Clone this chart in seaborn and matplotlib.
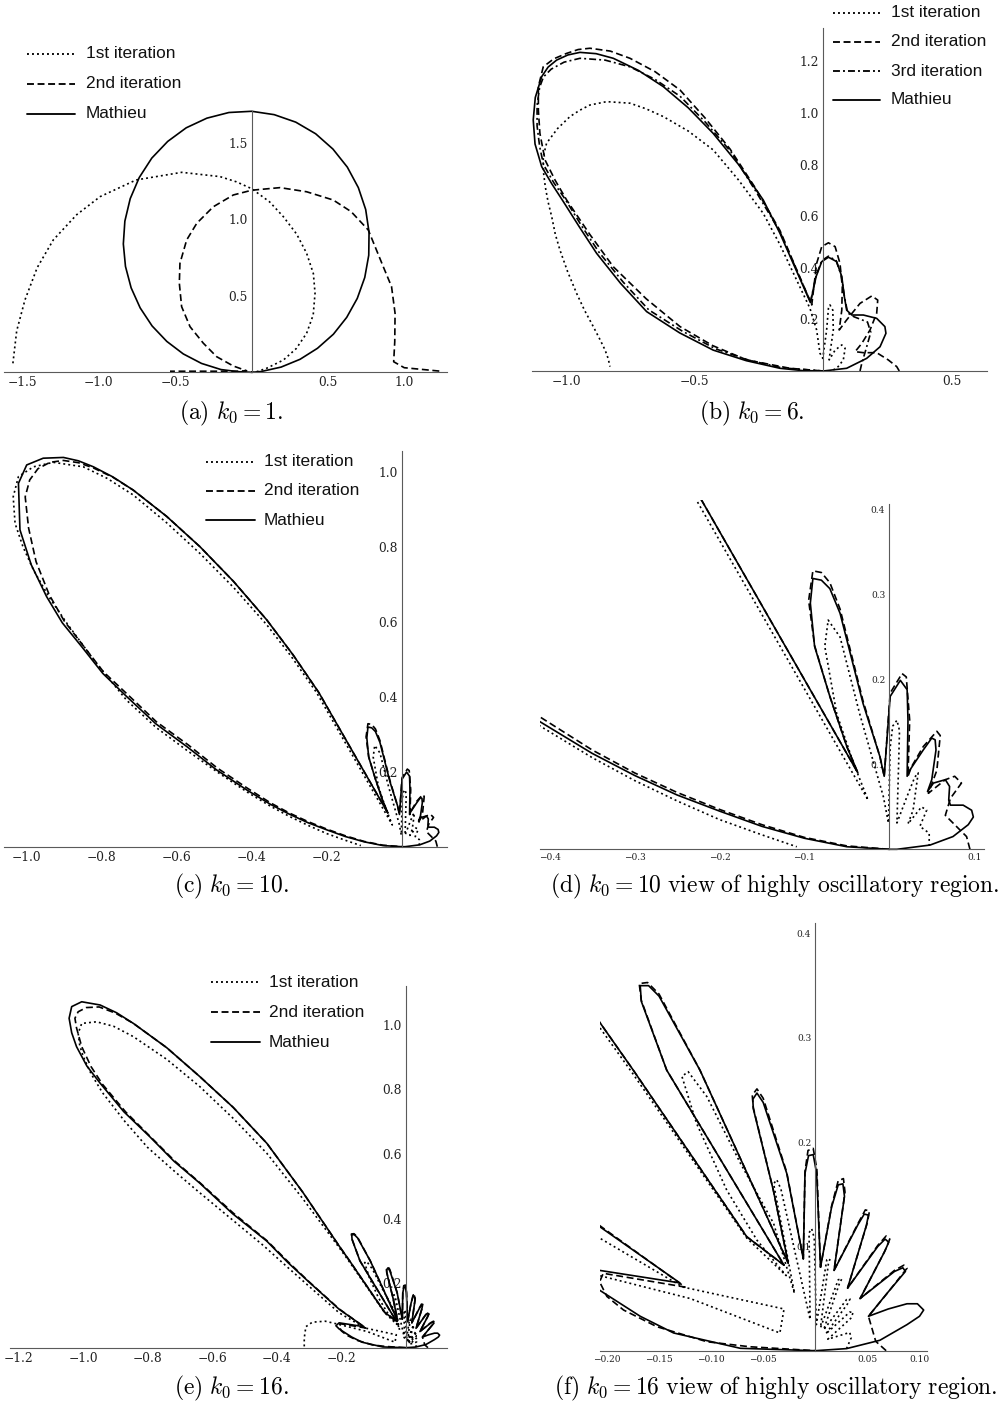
import numpy as np
import pandas as pd
import matplotlib
matplotlib.use("Agg")
import matplotlib.pyplot as plt
import seaborn as sns
from matplotlib.lines import Line2D
from matplotlib.ticker import FixedLocator, MultipleLocator, FuncFormatter

# ---------------- data (x, y) vertices ----------------
# (a) k0 = 1
A_MATHIEU = [(0.0, 0.0), (0.062, 0.005), (0.192, 0.034), (0.316, 0.085), (0.430, 0.157), (0.534, 0.249),
             (0.621, 0.359), (0.690, 0.483), (0.739, 0.620), (0.765, 0.765), (0.767, 0.915), (0.745, 1.064),
             (0.697, 1.207), (0.625, 1.341), (0.531, 1.459), (0.418, 1.559), (0.288, 1.635), (0.147, 1.684),
             (0.0, 1.706), (-0.149, 1.698), (-0.293, 1.661), (-0.428, 1.598), (-0.549, 1.509), (-0.653, 1.400),
             (-0.735, 1.273), (-0.794, 1.135), (-0.829, 0.988), (-0.839, 0.839), (-0.825, 0.692), (-0.788, 0.552),
             (-0.729, 0.421), (-0.651, 0.303), (-0.555, 0.202), (-0.447, 0.120), (-0.328, 0.058), (-0.201, 0.018),
             (-0.09, 0.004), (0.0, 0.0)]
A_ITER1 = [(0.0, 0.0), (0.03, 0.003), (0.097, 0.026), (0.207, 0.080), (0.291, 0.155), (0.359, 0.255),
           (0.402, 0.375), (0.414, 0.517), (0.403, 0.645), (0.359, 0.778), (0.294, 0.903), (0.207, 1.017),
           (0.117, 1.114), (0.0, 1.2), (-0.1, 1.245), (-0.207, 1.279), (-0.457, 1.307), (-0.756, 1.257),
           (-0.991, 1.148), (-1.144, 1.030), (-1.297, 0.865), (-1.402, 0.684), (-1.482, 0.473), (-1.536, 0.271),
           (-1.562, 0.048)]
A_ITER2 = [(1.226, 0.008), (0.997, 0.030), (0.928, 0.069), (0.935, 0.2), (0.937, 0.386), (0.914, 0.56),
           (0.86, 0.69), (0.762, 0.93), (0.65, 1.05), (0.533, 1.126), (0.359, 1.18), (0.185, 1.207), (0.0, 1.19),
           (-0.12, 1.159), (-0.251, 1.082), (-0.359, 0.974), (-0.425, 0.865), (-0.469, 0.712), (-0.473, 0.582),
           (-0.458, 0.429), (-0.403, 0.298), (-0.316, 0.190), (-0.229, 0.102), (-0.12, 0.041), (-0.033, 0.010),
           (-0.1, 0.007), (-0.3, 0.007), (-0.534, 0.007)]

# (b) k0 = 6
B_MATHIEU = [(0.0, 0.0), (0.091, 0.0105), (0.169, 0.049), (0.221, 0.094), (0.244, 0.146), (0.240, 0.172),
             (0.208, 0.204), (0.156, 0.217), (0.111, 0.217), (0.091, 0.236), (0.082, 0.288), (0.072, 0.366),
             (0.052, 0.424), (0.020, 0.441), (-0.006, 0.424), (-0.028, 0.366), (-0.05, 0.265), (-0.169, 0.534),
             (-0.234, 0.663), (-0.33, 0.80), (-0.429, 0.921), (-0.526, 1.02), (-0.623, 1.102), (-0.72, 1.165),
             (-0.818, 1.212), (-0.885, 1.23), (-0.948, 1.235), (-0.995, 1.225), (-1.039, 1.205), (-1.072, 1.178),
             (-1.097, 1.141), (-1.122, 1.06), (-1.130, 0.973), (-1.123, 0.88), (-1.097, 0.792), (-1.058, 0.726),
             (-1.013, 0.657), (-0.95, 0.558), (-0.883, 0.456), (-0.79, 0.34), (-0.688, 0.230), (-0.56, 0.148),
             (-0.429, 0.081), (-0.3, 0.040), (-0.169, 0.0105), (-0.08, 0.0015), (0.0, 0.0)]
B_ITER1 = [(0.039, 0.004), (0.058, 0.017), (0.078, 0.043), (0.085, 0.088), (0.072, 0.101), (0.046, 0.081),
           (0.023, 0.043), (0.026, 0.069), (0.039, 0.159), (0.037, 0.236), (0.026, 0.256), (0.020, 0.243),
           (0.013, 0.159), (-0.002, 0.049), (-0.013, 0.069), (-0.026, 0.159), (-0.052, 0.243), (-0.169, 0.49),
           (-0.234, 0.611), (-0.33, 0.74), (-0.429, 0.857), (-0.526, 0.93), (-0.623, 0.986), (-0.69, 1.016),
           (-0.753, 1.038), (-0.844, 1.044), (-0.909, 1.031), (-0.95, 1.01), (-0.987, 0.986), (-1.035, 0.94),
           (-1.078, 0.883), (-1.091, 0.831), (-1.09, 0.77), (-1.083, 0.714), (-1.072, 0.655), (-1.058, 0.598),
           (-1.044, 0.53), (-1.026, 0.469), (-0.996, 0.385), (-0.961, 0.301), (-0.93, 0.235), (-0.896, 0.172),
           (-0.87, 0.122), (-0.850, 0.081), (-0.838, 0.048), (-0.831, 0.017)]
B_ITER2 = [(0.296, 0.0), (0.286, 0.017), (0.253, 0.043), (0.208, 0.071), (0.156, 0.071), (0.124, 0.075),
           (0.150, 0.107), (0.182, 0.159), (0.208, 0.224), (0.212, 0.275), (0.189, 0.291), (0.143, 0.262),
           (0.091, 0.198), (0.062, 0.159), (0.072, 0.236), (0.074, 0.327), (0.065, 0.417), (0.046, 0.482),
           (0.020, 0.497), (-0.006, 0.482), (-0.026, 0.417), (-0.045, 0.256), (-0.169, 0.545), (-0.265, 0.71),
           (-0.363, 0.86), (-0.46, 0.98), (-0.558, 1.089), (-0.655, 1.16), (-0.753, 1.212), (-0.83, 1.24),
           (-0.909, 1.251), (-0.955, 1.246), (-1.0, 1.231), (-1.05, 1.21), (-1.091, 1.179), (-1.110, 1.102),
           (-1.11, 1.01), (-1.104, 0.921), (-1.084, 0.818), (-1.045, 0.74), (-1.0, 0.663), (-0.91, 0.53),
           (-0.818, 0.404), (-0.69, 0.28), (-0.558, 0.172), (-0.43, 0.098), (-0.298, 0.043), (-0.13, 0.0105),
           (0.0, 0.0)]
B_ITER3 = [(0.143, 0.0), (0.150, 0.03), (0.165, 0.08), (0.185, 0.15), (0.172, 0.19), (0.12, 0.21), (0.095, 0.225),
           (0.082, 0.29), (0.070, 0.37), (0.050, 0.428), (0.020, 0.445), (-0.006, 0.428), (-0.028, 0.37),
           (-0.05, 0.268), (-0.169, 0.54), (-0.265, 0.70), (-0.36, 0.85), (-0.46, 0.965), (-0.558, 1.065),
           (-0.655, 1.13), (-0.753, 1.179), (-0.85, 1.205), (-0.948, 1.212), (-1.01, 1.197), (-1.06, 1.17),
           (-1.09, 1.14), (-1.105, 1.10), (-1.115, 1.03), (-1.115, 0.95), (-1.105, 0.87), (-1.09, 0.80),
           (-1.05, 0.73), (-1.005, 0.665), (-0.94, 0.56), (-0.875, 0.462), (-0.78, 0.345), (-0.68, 0.237),
           (-0.55, 0.155), (-0.42, 0.086), (-0.29, 0.042), (-0.16, 0.012), (0.0, 0.0)]

# (c)/(d) k0 = 10
K10_MATHIEU = [(0.0, 0.0), (0.009, 0.0), (0.048, 0.005), (0.075, 0.015), (0.093, 0.029), (0.099, 0.038),
               (0.097, 0.046), (0.087, 0.052), (0.072, 0.052), (0.070, 0.058), (0.071, 0.074), (0.066, 0.082),
               (0.052, 0.078), (0.045, 0.068), (0.050, 0.082), (0.055, 0.117), (0.054, 0.129), (0.050, 0.131),
               (0.040, 0.117), (0.024, 0.093), (0.021, 0.086), (0.022, 0.152), (0.021, 0.188), (0.013, 0.199),
               (0.001, 0.18), (-0.006, 0.086), (-0.011, 0.109), (-0.031, 0.172), (-0.058, 0.278), (-0.070, 0.307),
               (-0.080, 0.317), (-0.090, 0.319), (-0.093, 0.29), (-0.088, 0.239), (-0.070, 0.18), (-0.050, 0.121),
               (-0.037, 0.090), (-0.221, 0.411), (-0.29, 0.512), (-0.36, 0.605), (-0.449, 0.708), (-0.538, 0.8),
               (-0.627, 0.881), (-0.716, 0.951), (-0.77, 0.986), (-0.822, 1.013), (-0.862, 1.029), (-0.902, 1.038),
               (-0.956, 1.036), (-1.0, 1.018), (-1.022, 0.969), (-1.018, 0.845), (-0.988, 0.752), (-0.947, 0.667),
               (-0.905, 0.597), (-0.853, 0.533), (-0.797, 0.462), (-0.733, 0.4), (-0.656, 0.328), (-0.573, 0.267),
               (-0.494, 0.205), (-0.411, 0.150), (-0.35, 0.113), (-0.3, 0.087), (-0.25, 0.064), (-0.2, 0.045),
               (-0.15, 0.027), (-0.1, 0.013), (-0.05, 0.003), (0.0, 0.0)]
K10_ITER1 = [(0.047, 0.004), (0.047, 0.019), (0.036, 0.027), (0.044, 0.046), (0.038, 0.050), (0.022, 0.030),
             (0.028, 0.046), (0.034, 0.090), (0.030, 0.085), (0.020, 0.060), (0.009, 0.031), (0.011, 0.101),
             (0.012, 0.14), (0.009, 0.152), (0.004, 0.145), (0.001, 0.12), (-0.001, 0.031), (-0.007, 0.062),
             (-0.035, 0.160), (-0.058, 0.25), (-0.072, 0.27), (-0.076, 0.239), (-0.062, 0.160), (-0.042, 0.101),
             (-0.025, 0.058), (-0.227, 0.411), (-0.295, 0.508), (-0.36, 0.592), (-0.449, 0.692), (-0.538, 0.782),
             (-0.627, 0.864), (-0.716, 0.938), (-0.785, 0.982), (-0.849, 1.013), (-0.929, 1.025), (-0.982, 1.013),
             (-1.022, 0.987), (-1.036, 0.933), (-1.031, 0.862), (-1.01, 0.80), (-0.982, 0.738), (-0.94, 0.665),
             (-0.893, 0.596), (-0.815, 0.49), (-0.733, 0.39), (-0.655, 0.318), (-0.573, 0.257), (-0.49, 0.198),
             (-0.411, 0.145), (-0.35, 0.108), (-0.3, 0.081), (-0.25, 0.057), (-0.2, 0.035), (-0.15, 0.017),
             (-0.109, 0.003)]
K10_ITER2 = [(0.095, 0.0), (0.091, 0.015), (0.066, 0.040), (0.072, 0.060), (0.085, 0.078), (0.077, 0.086),
             (0.066, 0.082), (0.046, 0.066), (0.056, 0.093), (0.060, 0.134), (0.056, 0.139), (0.040, 0.121),
             (0.026, 0.097), (0.022, 0.086), (0.024, 0.152), (0.020, 0.203), (0.015, 0.207), (0.001, 0.184),
             (-0.006, 0.086), (-0.011, 0.109), (-0.031, 0.175), (-0.058, 0.283), (-0.070, 0.314), (-0.080, 0.326),
             (-0.090, 0.328), (-0.095, 0.293), (-0.088, 0.24), (-0.070, 0.18), (-0.050, 0.121), (-0.037, 0.090),
             (-0.221, 0.411), (-0.29, 0.512), (-0.36, 0.605), (-0.449, 0.708), (-0.538, 0.8), (-0.627, 0.881),
             (-0.716, 0.951), (-0.77, 0.985), (-0.822, 1.01), (-0.862, 1.024), (-0.902, 1.030), (-0.938, 1.025),
             (-0.97, 1.008), (-0.992, 0.978), (-1.004, 0.933), (-0.995, 0.85), (-0.975, 0.76), (-0.94, 0.672),
             (-0.90, 0.602), (-0.85, 0.537), (-0.795, 0.466), (-0.73, 0.405), (-0.654, 0.333), (-0.57, 0.272),
             (-0.492, 0.21), (-0.41, 0.155), (-0.35, 0.117), (-0.3, 0.09), (-0.25, 0.067), (-0.2, 0.047),
             (-0.15, 0.029), (-0.1, 0.014), (-0.05, 0.004), (0.0, 0.0)]

# (e)/(f) k0 = 16
K16_MATHIEU = [(0.0, 0.0), (0.030, 0.002), (0.062, 0.010), (0.088, 0.025), (0.100, 0.033), (0.104, 0.039),
               (0.098, 0.045), (0.088, 0.045), (0.070, 0.040), (0.051, 0.033), (0.068, 0.054), (0.0865, 0.076),
               (0.084, 0.0795), (0.076, 0.076), (0.043, 0.050), (0.066, 0.094), (0.0705, 0.104), (0.067, 0.107),
               (0.060, 0.100), (0.031, 0.060), (0.049, 0.120), (0.051, 0.130), (0.047, 0.131), (0.041, 0.121),
               (0.018, 0.077), (0.028, 0.148), (0.0265, 0.160), (0.022, 0.159), (0.0157, 0.138), (0.005, 0.080),
               (0.0013, 0.170), (-0.002, 0.188), (-0.0065, 0.187), (-0.0099, 0.170), (-0.0115, 0.088),
               (-0.0274, 0.170), (-0.050, 0.238), (-0.056, 0.247), (-0.060, 0.241), (-0.0595, 0.232),
               (-0.0403, 0.154), (-0.026, 0.084), (-0.1107, 0.269), (-0.150, 0.340), (-0.160, 0.350),
               (-0.168, 0.350), (-0.167, 0.335), (-0.1426, 0.269), (-0.030, 0.082), (-0.0658, 0.1093),
               (-0.1747, 0.269), (-0.207, 0.315), (-0.32, 0.482), (-0.431, 0.633), (-0.535, 0.744), (-0.638, 0.839),
               (-0.741, 0.929), (-0.844, 1.004), (-0.896, 1.037), (-0.947, 1.061), (-1.004, 1.071), (-1.035, 1.056),
               (-1.043, 1.02), (-1.035, 0.975), (-1.02, 0.932), (-0.988, 0.872), (-0.947, 0.819), (-0.874, 0.731),
               (-0.793, 0.653), (-0.718, 0.577), (-0.638, 0.509), (-0.537, 0.415), (-0.431, 0.33), (-0.366, 0.264),
               (-0.3, 0.203), (-0.207, 0.119), (-0.13, 0.065), (-0.207, 0.077), (-0.217, 0.068), (-0.207, 0.058),
               (-0.168, 0.033), (-0.136, 0.017), (-0.072, 0.0023), (0.0, 0.0)]
K16_ITER1 = [(0.030, 0.002), (0.0345, 0.0125), (0.033, 0.0175), (0.012, 0.011), (0.034, 0.031), (0.0365, 0.037),
             (0.033, 0.037), (0.010, 0.016), (0.031, 0.045), (0.0333, 0.0495), (0.030, 0.049), (0.008, 0.020),
             (0.023, 0.064), (0.0255, 0.069), (0.022, 0.068), (0.005, 0.022), (0.0125, 0.083), (0.0141, 0.088),
             (0.011, 0.087), (0.001, 0.025), (-0.001, 0.108), (-0.0035, 0.117), (-0.006, 0.113), (-0.005, 0.03),
             (-0.033, 0.155), (-0.037, 0.164), (-0.040, 0.160), (-0.020, 0.055), (-0.040, 0.122), (-0.072, 0.18),
             (-0.104, 0.2435), (-0.122, 0.2675), (-0.128, 0.263), (-0.114, 0.218), (-0.085, 0.154),
             (-0.056, 0.106), (-0.028, 0.072), (-0.0658, 0.108), (-0.1747, 0.265), (-0.207, 0.31), (-0.32, 0.462),
             (-0.431, 0.602), (-0.535, 0.71), (-0.638, 0.808), (-0.741, 0.893), (-0.844, 0.963), (-0.905, 0.995),
             (-0.958, 1.009), (-1.004, 1.004), (-1.015, 0.973), (-1.01, 0.935), (-0.999, 0.901), (-0.975, 0.848),
             (-0.94, 0.79), (-0.87, 0.70), (-0.80, 0.62), (-0.72, 0.549), (-0.645, 0.485), (-0.54, 0.398),
             (-0.44, 0.315), (-0.37, 0.252), (-0.3, 0.19), (-0.207, 0.108), (-0.127, 0.061), (-0.030, 0.040),
             (-0.034, 0.017), (-0.12, 0.05), (-0.207, 0.072), (-0.25, 0.082), (-0.29, 0.079), (-0.31, 0.065),
             (-0.315, 0.03), (-0.315, 0.0)]
K16_ITER2 = [(0.068, 0.0), (0.058, 0.009), (0.051, 0.033), (0.069, 0.055), (0.088, 0.079), (0.085, 0.082),
             (0.076, 0.077), (0.043, 0.050), (0.067, 0.096), (0.0715, 0.107), (0.068, 0.110), (0.060, 0.101),
             (0.031, 0.060), (0.050, 0.123), (0.052, 0.134), (0.048, 0.135), (0.041, 0.122), (0.018, 0.077),
             (0.0285, 0.152), (0.027, 0.165), (0.022, 0.163), (0.0157, 0.139), (0.005, 0.080), (0.0015, 0.174),
             (-0.002, 0.194), (-0.007, 0.192), (-0.0099, 0.172), (-0.0115, 0.088), (-0.0274, 0.171),
             (-0.050, 0.242), (-0.056, 0.251), (-0.0605, 0.245), (-0.0595, 0.233), (-0.0403, 0.154),
             (-0.026, 0.084), (-0.1107, 0.269), (-0.150, 0.342), (-0.161, 0.353), (-0.169, 0.352),
             (-0.167, 0.336), (-0.1426, 0.269), (-0.030, 0.082), (-0.0658, 0.1093), (-0.1747, 0.269),
             (-0.207, 0.315), (-0.32, 0.482), (-0.431, 0.633), (-0.535, 0.744), (-0.638, 0.839), (-0.741, 0.929),
             (-0.844, 1.004), (-0.90, 1.036), (-0.95, 1.055), (-0.99, 1.053), (-1.015, 1.04), (-1.025, 1.02),
             (-1.02, 0.99), (-1.004, 0.932), (-0.975, 0.87), (-0.94, 0.816), (-0.868, 0.73), (-0.79, 0.652),
             (-0.716, 0.578), (-0.636, 0.509), (-0.535, 0.417), (-0.43, 0.331), (-0.365, 0.266), (-0.3, 0.204),
             (-0.207, 0.12), (-0.125, 0.061), (-0.2035, 0.0742), (-0.207, 0.066), (-0.200, 0.052),
             (-0.184, 0.039), (-0.152, 0.023), (-0.104, 0.0086), (-0.063, 0.0038), (0.0, 0.0)]

SERIES_LABELS = ["1st iteration", "2nd iteration", "3rd iteration", "Mathieu"]
CAPTIONS = {
    "a": r"$\mathrm{(a)}\ k_0 = 1\mathrm{.}$",
    "b": r"$\mathrm{(b)}\ k_0 = 6\mathrm{.}$",
    "c": r"$\mathrm{(c)}\ k_0 = 10\mathrm{.}$",
    "d": r"$\mathrm{(d)}\ k_0 = 10\ \mathrm{view\ of\ highly\ oscillatory\ region.}$",
    "e": r"$\mathrm{(e)}\ k_0 = 16\mathrm{.}$",
    "f": r"$\mathrm{(f)}\ k_0 = 16\ \mathrm{view\ of\ highly\ oscillatory\ region.}$",
}

# ---------------- styling ----------------
sns.set_theme(style="white")
plt.rcParams["font.family"] = ["DejaVu Serif"]
plt.rcParams["mathtext.fontset"] = "cm"
plt.rcParams["lines.scale_dashes"] = False

W, H = 1007, 1408
fig = plt.figure(figsize=(W / 100, H / 100), dpi=100)
fig.patch.set_facecolor("white")

STY = {
    "dot": (0, (1.4, 2.2)),
    "dash": (0, (5.0, 2.6)),
    "ddot": (0, (5.0, 2.2, 1.4, 2.2)),
    "solid": "-",
}
LW = 1.2
AXC = "#5a5a5a"


def fmt(dec):
    return FuncFormatter(lambda v, p: f"{v:.{dec}f}".replace("-", "\u2212"))


def make_axes(ox, oy, sx, sy, xlim, ylim, ytop, xmaj, ymaj, xminor, yminor, xdec, ydec, fs):
    left = ox + sx * xlim[0]
    right = ox + sx * xlim[1]
    top = oy - sy * ylim[1]
    bottom = oy - sy * ylim[0]
    ax = fig.add_axes([left / W, 1 - bottom / H, (right - left) / W, (bottom - top) / H])
    ax.set_facecolor("none")
    for s in ("top", "right"):
        ax.spines[s].set_visible(False)
    ax.spines["left"].set_position(("data", 0))
    ax.spines["bottom"].set_position(("data", 0))
    ax.spines["left"].set_bounds(0, ytop)
    for s in ("left", "bottom"):
        ax.spines[s].set_color(AXC)
        ax.spines[s].set_linewidth(0.8)
    ax.xaxis.set_major_locator(FixedLocator(xmaj))
    ax.yaxis.set_major_locator(FixedLocator(ymaj))
    ax.xaxis.set_minor_locator(MultipleLocator(xminor))
    ax.yaxis.set_minor_locator(MultipleLocator(yminor))
    ax.xaxis.set_major_formatter(fmt(xdec))
    ax.yaxis.set_major_formatter(fmt(ydec))
    big = fs >= 7.5
    ax.tick_params(which="major", direction="in", length=4.3 if big else 3.4, width=0.7, color=AXC,
                   labelsize=fs, labelcolor="#222222", pad=3.0)
    ax.tick_params(which="minor", direction="in", length=2.3 if big else 1.9, width=0.6, color=AXC)
    ax.grid(False)
    return ax


def draw(ax, pts, style):
    df = pd.DataFrame(np.array(pts), columns=["x", "y"])
    sns.lineplot(data=df, x="x", y="y", sort=False, estimator=None, ax=ax, color="black",
                 lw=LW, linestyle=STY[style], legend=False)


def finish(ax, xlim, ylim):
    ax.set_xlim(xlim)
    ax.set_ylim(ylim)
    ax.set_xlabel("")
    ax.set_ylabel("")


def legend(x1, x2, xt, ys, labels, styles):
    for y, lab, st in zip(ys, labels, styles):
        fig.add_artist(Line2D([x1 / W, x2 / W], [1 - y / H, 1 - y / H], transform=fig.transFigure,
                              color="black", lw=LW * 1.1, linestyle=STY[st]))
        fig.text(xt / W, 1 - y / H, lab, ha="left", va="center", fontsize=12.4,
                 family=["Liberation Sans", "DejaVu Sans"], color="#111111")


# ---- (a)
la = dict(ox=251.7, oy=372.3, sx=153, sy=153, xlim=(-1.62, 1.275), ylim=(-0.012, 1.715), ytop=1.71,
          xmaj=[-1.5, -1.0, -0.5, 0.5, 1.0], ymaj=[0.5, 1.0, 1.5], xminor=0.1, yminor=0.1, xdec=1, ydec=1, fs=8.8)
ax = make_axes(**la)
draw(ax, A_ITER1, "dot")
draw(ax, A_ITER2, "dash")
draw(ax, A_MATHIEU, "solid")
finish(ax, la["xlim"], la["ylim"])

# ---- (b)
lb = dict(ox=823.3, oy=371, sx=256.7, sy=258, xlim=(-1.136, 0.637), ylim=(-0.008, 1.33), ytop=1.33,
          xmaj=[-1.0, -0.5, 0.5], ymaj=[0.2, 0.4, 0.6, 0.8, 1.0, 1.2], xminor=0.1, yminor=0.05, xdec=1, ydec=1,
          fs=8.8)
ax = make_axes(**lb)
draw(ax, B_ITER1, "dot")
draw(ax, B_ITER2, "dash")
draw(ax, B_ITER3, "ddot")
draw(ax, B_MATHIEU, "solid")
finish(ax, lb["xlim"], lb["ylim"])

# ---- (c)
lc = dict(ox=401.7, oy=846.7, sx=375, sy=375, xlim=(-1.06, 0.12), ylim=(-0.005, 1.056), ytop=1.056,
          xmaj=[-1.0, -0.8, -0.6, -0.4, -0.2], ymaj=[0.2, 0.4, 0.6, 0.8, 1.0], xminor=0.05, yminor=0.05,
          xdec=1, ydec=1, fs=8.8)
ax = make_axes(**lc)
draw(ax, K10_ITER1, "dot")
draw(ax, K10_ITER2, "dash")
draw(ax, K10_MATHIEU, "solid")
finish(ax, lc["xlim"], lc["ylim"])

# ---- (d)
ld = dict(ox=889.3, oy=849.3, sx=849, sy=849, xlim=(-0.411, 0.111), ylim=(-0.002, 0.412), ytop=0.407,
          xmaj=[-0.4, -0.3, -0.2, -0.1, 0.1], ymaj=[0.1, 0.2, 0.3, 0.4], xminor=0.02, yminor=0.02,
          xdec=1, ydec=1, fs=6.5)
ax = make_axes(**ld)
draw(ax, K10_ITER1, "dot")
draw(ax, K10_ITER2, "dash")
draw(ax, K10_MATHIEU, "solid")
finish(ax, ld["xlim"], ld["ylim"])

# ---- (e)
le = dict(ox=406, oy=1347.7, sx=323, sy=323, xlim=(-1.226, 0.126), ylim=(-0.005, 1.12), ytop=1.12,
          xmaj=[-1.2, -1.0, -0.8, -0.6, -0.4, -0.2], ymaj=[0.2, 0.4, 0.6, 0.8, 1.0], xminor=0.05, yminor=0.05,
          xdec=1, ydec=1, fs=8.8)
ax = make_axes(**le)
draw(ax, K16_ITER1, "dot")
draw(ax, K16_ITER2, "dash")
draw(ax, K16_MATHIEU, "solid")
finish(ax, le["xlim"], le["ylim"])

# ---- (f)
lf = dict(ox=815.3, oy=1350.7, sx=1042, sy=1043, xlim=(-0.207, 0.107), ylim=(-0.002, 0.41), ytop=0.41,
          xmaj=[-0.2, -0.15, -0.1, -0.05, 0.05, 0.1], ymaj=[0.1, 0.2, 0.3, 0.4], xminor=0.01, yminor=0.02,
          xdec=2, ydec=1, fs=6.5)
ax = make_axes(**lf)
draw(ax, K16_ITER1, "dot")
draw(ax, K16_ITER2, "dash")
draw(ax, K16_MATHIEU, "solid")
finish(ax, lf["xlim"], lf["ylim"])

# ---- legends
L3 = [SERIES_LABELS[0], SERIES_LABELS[1], SERIES_LABELS[3]]
legend(27, 75, 86, [54, 84, 114], L3, ["dot", "dash", "solid"])
legend(832.7, 880, 891, [12.7, 41.7, 71, 100], SERIES_LABELS, ["dot", "dash", "ddot", "solid"])
legend(206, 255, 264, [461.7, 491, 520], L3, ["dot", "dash", "solid"])
legend(210.7, 260, 269, [982.3, 1012.3, 1042.3], L3, ["dot", "dash", "solid"])

# ---- captions
CAP_POS = {"a": (231, 413), "b": (752, 413), "c": (231, 886), "d": (775, 886), "e": (231, 1388), "f": (776, 1388)}
for k, (cx, cy) in CAP_POS.items():
    fig.text(cx / W, 1 - cy / H, CAPTIONS[k], ha="center", va="center", fontsize=17, color="black")

fig.savefig("out.png", dpi=100, facecolor="white")
